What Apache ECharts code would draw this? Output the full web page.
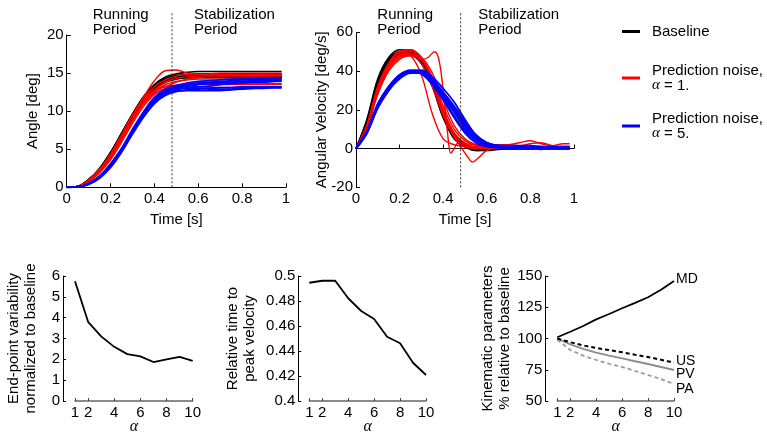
<!DOCTYPE html>
<html><head><meta charset="utf-8">
<script src="https://cdn.jsdelivr.net/npm/echarts@6/dist/echarts.min.js"></script>
<style>html,body{margin:0;padding:0;background:#fff}#c{width:767px;height:432px}</style>
</head><body><div id="c"></div>
<script>
// ---------- data ----------
const T = [0,0.05,0.1,0.15,0.2,0.25,0.3,0.35,0.4,0.45,0.5,0.55,0.6,0.65,0.7,0.75,0.8,0.85,0.9,0.95,0.98];
const dividerT = 0.48;

// Angle [deg] - Baseline
const angBase1 = [0,0.1,1.0,2.4,4.5,7.0,9.6,11.9,13.5,14.5,14.9,15.1,15.2,15.2,15.2,15.2,15.2,15.2,15.2,15.2,15.2];
const angBase2 = [0,0.1,1.0,2.5,4.6,7.1,9.6,11.8,13.4,14.3,14.7,14.8,14.9,14.9,14.9,14.9,14.9,14.9,14.9,14.9,14.9];
const angBase3 = [0,0.1,0.9,2.3,4.3,6.8,9.3,11.5,13.1,14.0,14.4,14.5,14.6,14.6,14.6,14.6,14.6,14.6,14.6,14.6,14.6];
const angBase4 = [0,0.1,1.0,2.4,4.5,7.0,9.5,11.6,13.1,13.9,14.3,14.4,14.5,14.5,14.5,14.5,14.5,14.5,14.5,14.5,14.5];
const angBase5 = [0,0.1,0.9,2.2,4.2,6.6,9.1,11.3,12.9,13.8,14.2,14.4,14.4,14.4,14.4,14.4,14.4,14.4,14.4,14.4,14.4];
const angBase6 = [0,0.1,1.0,2.4,4.4,6.9,9.4,11.6,13.2,14.1,14.5,14.7,14.7,14.7,14.7,14.7,14.7,14.7,14.7,14.7,14.7];
// Angle - alpha = 1
const angA1_1 = [0,0.1,0.9,2.3,4.3,6.8,9.4,11.8,14.0,15.3,15.4,15.0,14.8,14.8,14.8,14.8,14.8,14.8,14.8,14.8,14.8];
const angA1_2 = [0,0.1,0.9,2.3,4.3,6.8,9.4,11.5,12.8,13.2,13.8,14.2,14.4,14.5,14.5,14.5,14.5,14.5,14.5,14.5,14.5];
const angA1_3 = [0,0.1,0.8,2.1,4.0,6.4,8.9,11.1,12.6,13.2,13.4,13.4,13.5,13.5,13.5,13.5,13.5,13.5,13.5,13.5,13.5];
const angA1_4 = [0,0.1,0.8,2.0,3.8,6.2,8.7,10.9,12.4,12.9,13.0,13.0,13.0,13.1,13.1,13.1,13.1,13.1,13.1,13.1,13.1];
const angA1_5 = [0,0.1,0.9,2.2,4.1,6.5,9.0,11.2,12.8,13.8,14.3,14.5,14.6,14.7,14.7,14.7,14.7,14.7,14.7,14.7,14.7];
const angA1_6 = [0,0.1,0.8,2.1,3.9,6.3,8.8,11.0,12.6,13.5,13.9,14.1,14.2,14.2,14.2,14.2,14.2,14.2,14.2,14.2,14.2];
const angA1_7 = [0,0.05,0.7,1.9,3.6,5.9,8.4,10.6,12.2,13.0,13.3,13.5,13.6,13.6,13.6,13.6,13.6,13.6,13.6,13.6,13.6];
const angA1_8 = [0,0.1,1.0,2.4,4.4,6.9,9.5,11.7,13.2,14.1,14.6,14.8,14.9,14.9,15.0,15.0,15.0,15.0,15.0,15.0,15.0];
// Angle - alpha = 5
const angA5_1 = [0,0.05,0.5,1.5,3.0,5.0,7.5,9.8,11.6,12.7,13.2,13.5,13.7,13.8,13.9,14.0,14.1,14.2,14.2,14.3,14.3];
const angA5_2 = [0,0.05,0.5,1.4,2.9,4.9,7.3,9.6,11.4,12.5,13.0,13.3,13.5,13.6,13.7,13.8,13.9,14.0,14.0,14.1,14.1];
const angA5_3 = [0,0.05,0.4,1.3,2.8,4.8,7.2,9.5,11.3,12.4,12.9,13.1,13.2,13.3,13.5,13.6,13.7,13.8,13.8,13.9,13.9];
const angA5_4 = [0,0.05,0.4,1.3,2.7,4.7,7.1,9.3,11.1,12.1,12.6,12.7,12.7,12.7,12.7,12.8,12.9,13.0,13.0,13.1,13.1];
const angA5_5 = [0,0.05,0.5,1.5,3.1,5.1,7.6,9.9,11.8,12.9,13.4,13.7,13.9,14.0,14.1,14.2,14.2,14.3,14.3,14.3,14.3];
const angA5_6 = [0,0.05,0.4,1.2,2.6,4.6,7.0,9.2,11.0,12.1,12.6,12.8,12.9,13.0,13.1,13.1,13.2,13.2,13.2,13.2,13.2];
const angA5_7 = [0,0.05,0.5,1.4,2.9,4.9,7.4,9.7,11.5,12.6,13.1,13.4,13.6,13.7,13.8,13.8,13.9,13.9,14.0,14.0,14.0];
const angA5_8 = [0,0.05,0.4,1.3,2.8,4.8,7.2,9.4,11.2,12.3,12.8,13.0,13.0,12.9,12.9,12.9,13.0,13.0,13.1,13.1,13.1];

// Angular velocity [deg/s] - Baseline
const velBase1 = [0,15,36,47,51,50,45,33,16,6,1,-1,-0.5,0,0,0,0,0,0,0,0];
const velBase2 = [0,14,34,46,50,51,46,34,17,6,1,-0.5,-0.5,0,0,0,0,0,0,0,0];
const velBase3 = [0,13,33,45,49,49,45,35,19,7,2,0,-0.5,0,0,0,0,0,0,0,0];
const velBase4 = [0,14,35,46,50,49,44,32,16,5,1,-1,-1,-0.5,0,0,0,0,0,0,0];
const velBase5 = [0,13,32,44,48,48,44,34,19,8,2,0,0,0,0,0,0,0,0,0,0];
const velBase6 = [0,14,34,46,49,50,46,35,18,7,2,0,-0.5,0,0,0,0,0,0,0,0];
// Velocity - alpha = 1
const tVelA1_1 = [0,0.05,0.1,0.15,0.2,0.25,0.3,0.33,0.36,0.38,0.4,0.42,0.435,0.45,0.47,0.5,0.55,0.6,0.7,0.8,0.9,0.98];
const velA1_1  = [0,11,31,42,47,48,46,47,50,46,30,8,-2.5,0,3,2.5,2,1,0.5,0,0.5,0];
const tVelA1_2 = [0,0.05,0.1,0.15,0.2,0.25,0.3,0.35,0.4,0.45,0.48,0.51,0.535,0.56,0.6,0.65,0.7,0.8,0.9,0.98];
const velA1_2  = [0,12,31,43,48,49,44,32,17,6,1,-4,-7,-5,-1,0.5,0.5,0,0,0];
const velA1_3 = [0,12,32,44,50,48,38,18,5,2,1,1,0.5,0.5,0.5,0.5,0.5,0.5,0.5,0.5,0.5];
const velA1_4 = [0,11,30,42,48,50,47,36,20,8,3,1,1,1.5,2,3,4,2.5,1.5,2.5,2.5];
const velA1_5 = [0,12,31,43,49,51,47,36,19,7,2,0.5,0,0,0.5,1,1,0.5,0,0,0];
const velA1_6 = [0,11,29,41,47,49,46,37,22,10,4,1.5,1,0.5,0.5,0.5,0.5,0.5,0.5,1,0.5];
const velA1_7 = [0,10,28,40,46,48,47,39,25,12,5,2,1,2,2,1.5,2.5,3,1.5,0.5,0.5];
const velA1_8 = [0,12,32,44,50,51,46,35,18,6,1,0,0.5,1,1.5,1,0,-0.5,0,0,0];
// Velocity - alpha = 5
const velA5_1 = [0,9,23,32,38,40.5,39.5,34,27,19,11,5,2,1,1,0.5,0.5,0.5,0.5,0.5,0.5];
const velA5_2 = [0,9,22,31,37,40,40,36,29,21,13,6,3,1.5,1,1,1,1,1,1,1];
const velA5_3 = [0,8,21,30,36,39,39,35,29,22,14,7,3,1.5,1,1,0.5,0.5,0.5,0.5,0.5];
const velA5_4 = [0,9,23,32,38,40,39,34,26,17,9,4,1.5,0.5,0,0,0,0,0,0,0];
const velA5_5 = [0,8,21,30,37,40,40.5,37,31,24,15,7,3,1.5,1,1,0.5,0.5,0.5,0.5,0];
const velA5_6 = [0,9,22,31,37,39.5,38.5,33,25,16,8,3,1,0.5,0,0,0,0,0,0,0];
const velA5_7 = [0,8,22,31,37,40,39.5,35,28,20,12,6,2.5,1.5,1.5,1.5,1.5,1,1,1,1];
const velA5_8 = [0,9,22,31,38,40,39,34,27,19,10,5,2,1,0.5,0.5,0.5,0.5,0.5,0.5,0.5];

// Bottom panels
const alphaVals = [1,2,3,4,5,6,7,8,9,10];
const alphaTicks = [1,2,4,6,8,10];
const endpointVar = [5.75,3.8,3.1,2.6,2.25,2.14,1.87,2.0,2.12,1.93];
const relTimePeak = [0.4946,0.4962,0.4962,0.4822,0.472,0.4656,0.4514,0.4462,0.4306,0.4208];
const kinMD = [101,105.4,110,115.3,119.6,124.2,128.5,133,139,146];
const kinUS = [100,97,94.5,92.4,90.7,89,87,85.2,83,80.7];
const kinPV = [100,95.3,91.7,88.7,86.3,84.1,81.8,79.6,77.2,74.8];
const kinPA = [99,90.8,86.3,82.8,79.8,77.2,74,70.8,67.5,63.6];

const NAME_BASE = 'Baseline';
const NAME_A1 = 'Prediction noise, α = 1.';
const NAME_A5 = 'Prediction noise, α = 5.';

// ---------- chart ----------
const FONT = '"Liberation Sans", Arial, Helvetica, sans-serif';
const SERIF = '"Liberation Serif", "Times New Roman", serif';
const RED = '#ff0000', BLUE = '#0000ff', BLACK = '#000000';
const pairs = (ts, vs) => ts.map((t, i) => [t, vs[i]]);
function curve(name, color, width, idx, ts, vs) {
  return {type:'line', name, xAxisIndex:idx, yAxisIndex:idx, data:pairs(ts, vs),
    symbol:'none', showSymbol:false, smooth:0.35, silent:true,
    lineStyle:{color, width}, itemStyle:{color}, emphasis:{disabled:true}};
}
const txt = {color:'#000', fontFamily:FONT, fontSize:15};
const nameTxt = {color:'#000', fontFamily:FONT, fontSize:15, lineHeight:17};

function topX(gi) {
  return {type:'value', gridIndex:gi, min:0, max:1, interval:0.2,
    axisLine:{show:true, lineStyle:{color:'#000', width:1}},
    axisTick:{show:true, inside:true, length:4, lineStyle:{color:'#000'}},
    axisLabel:Object.assign({margin:4}, txt), splitLine:{show:false},
    name:'Time [s]', nameLocation:'middle', nameGap:24, nameMoveOverlap:false, nameTextStyle:nameTxt};
}
function topY(gi, min, max, interval, name, gap) {
  return {type:'value', gridIndex:gi, min, max, interval,
    axisLine:{show:true, lineStyle:{color:'#000', width:1}},
    axisTick:{show:true, inside:true, length:4, lineStyle:{color:'#000'}},
    axisLabel:Object.assign({margin:3}, txt), splitLine:{show:false},
    name, nameLocation:'middle', nameGap:gap, nameMoveOverlap:false, nameTextStyle:nameTxt};
}
function hiddenAxis(gi) {
  return {type:'value', gridIndex:gi, min:0, max:1, show:false};
}
function botX(gi) {
  return {type:'value', gridIndex:gi, min:1, max:10,
    axisLine:{show:true, lineStyle:{color:'#666', width:1.5}},
    axisTick:{show:true, inside:true, length:3, customValues:alphaTicks, lineStyle:{color:'#444'}},
    axisLabel:Object.assign({margin:4, customValues:alphaTicks}, txt), splitLine:{show:false},
    name:'α', nameLocation:'middle', nameGap:18, nameMoveOverlap:false,
    nameTextStyle:{color:'#000', fontFamily:SERIF, fontStyle:'italic', fontSize:16, lineHeight:16}};
}
function botY(gi, min, max, interval, name, gap, offset) {
  return {type:'value', gridIndex:gi, min, max, interval, offset,
    axisLine:{show:true, lineStyle:{color:'#000', width:1}},
    axisTick:{show:true, inside:true, length:3, lineStyle:{color:'#000'}},
    axisLabel:Object.assign({margin:3}, txt), splitLine:{show:false},
    name, nameLocation:'middle', nameGap:gap, nameMoveOverlap:false, nameTextStyle:nameTxt};
}

const series = [];
// Top-left: angle
[angBase1,angBase2,angBase3,angBase4,angBase5,angBase6].forEach(v => series.push(curve(NAME_BASE, BLACK, 1.6, 0, T, v)));
[angA1_1,angA1_2,angA1_3,angA1_4,angA1_5,angA1_6,angA1_7,angA1_8].forEach(v => series.push(curve(NAME_A1, RED, 1.4, 0, T, v)));
[angA5_1,angA5_2,angA5_3,angA5_4,angA5_5,angA5_6,angA5_7,angA5_8].forEach(v => series.push(curve(NAME_A5, BLUE, 1.8, 0, T, v)));
// Top-middle: velocity
[velBase1,velBase2,velBase3,velBase4,velBase5,velBase6].forEach(v => series.push(curve(NAME_BASE, BLACK, 1.6, 1, T, v)));
series.push(curve(NAME_A1, RED, 1.4, 1, tVelA1_1, velA1_1));
series.push(curve(NAME_A1, RED, 1.4, 1, tVelA1_2, velA1_2));
[velA1_3,velA1_4,velA1_5,velA1_6,velA1_7,velA1_8].forEach(v => series.push(curve(NAME_A1, RED, 1.4, 1, T, v)));
[velA5_1,velA5_2,velA5_3,velA5_4,velA5_5,velA5_6,velA5_7,velA5_8].forEach(v => series.push(curve(NAME_A5, BLUE, 1.8, 1, T, v)));
// Dotted dividers (overlay grids)
[2,3].forEach(gi => series.push({type:'line', xAxisIndex:gi, yAxisIndex:gi, data:[[dividerT,0],[dividerT,1]],
  symbol:'none', silent:true, lineStyle:{color:'#333', width:1, type:[2,2]}}));
// Bottom panels
function simple(idx, vals, color, width, type, label, off) {
  const s = {type:'line', xAxisIndex:idx, yAxisIndex:idx, data:pairs(alphaVals, vals), symbol:'none',
    silent:true, lineStyle:{color, width, type:type || 'solid'}};
  if (label) s.endLabel = {show:true, formatter:label, color:'#000', fontFamily:FONT, fontSize:14, distance:2, offset:off};
  return s;
}
series.push(simple(4, endpointVar, '#000', 1.8));
series.push(simple(5, relTimePeak, '#000', 1.8));
series.push(simple(6, kinPA, '#9a9a9a', 1.8, [4,3], 'PA', [0,5]));
series.push(simple(6, kinPV, '#8c8c8c', 1.8, 'solid', 'PV', [0,4]));
series.push(simple(6, kinUS, '#000', 2, [4,3], 'US', [0,-1]));
series.push(simple(6, kinMD, '#000', 1.8, 'solid', 'MD', [0,-2]));

const legendBase = {orient:'vertical', icon:'rect', itemWidth:18, itemHeight:3, left:617,
  selectedMode:false, textStyle:{color:'#000', fontFamily:FONT, fontSize:15, lineHeight:15, padding:[0,0,0,7],
    rich:{a:{fontFamily:SERIF, fontStyle:'italic', fontSize:15, lineHeight:15}}}};
const legFmt = n => n === NAME_A1 ? 'Prediction noise,\n{a|α} = 1.' : n === NAME_A5 ? 'Prediction noise,\n{a|α} = 5.' : n;

const G = (left, top, width, height) => ({left, top, width, height, outerBoundsMode:'none', containLabel:false});
const option = {
  animation:false,
  backgroundColor:'#fff',
  textStyle:{fontFamily:FONT},
  grid:[
    G(66.7, 35, 219.3, 152.3),
    G(356, 32.3, 218, 155),
    G(66.7, 12, 219.3, 175.3),
    G(356, 12, 218, 175.3),
    G(75, 276, 117.7, 125),
    G(309.3, 276, 116.7, 125),
    G(557.3, 276, 116.7, 125)
  ],
  xAxis:[topX(0), topX(1), hiddenAxis(2), hiddenAxis(3), botX(4), botX(5), botX(6)],
  yAxis:[
    topY(0, 0, 20, 5, 'Angle [deg]', 25),
    topY(1, -20, 60, 20, 'Angular Velocity [deg/s]', 26),
    hiddenAxis(2), hiddenAxis(3),
    botY(4, 0, 6, 1, 'End-point variability\nnormalized to baseline', 24, 12),
    botY(5, 0.4, 0.5, 0.02, 'Relative time to\npeak velocity', 40, 11),
    botY(6, 50, 150, 25, 'Kinematic parameters\n% relative to baseline', 32, 12)
  ],
  legend:[
    Object.assign({}, legendBase, {top:19, data:[NAME_BASE], formatter:legFmt}),
    Object.assign({}, legendBase, {top:58, data:[NAME_A1], formatter:legFmt}),
    Object.assign({}, legendBase, {top:106, data:[NAME_A5], formatter:legFmt})
  ],
  graphic:[
    {type:'text', left:92.7, top:7, style:{text:'Running\nPeriod', font:'15px ' + FONT, lineHeight:15, fill:'#000'}},
    {type:'text', left:194, top:7, style:{text:'Stabilization\nPeriod', font:'15px ' + FONT, lineHeight:15, fill:'#000'}},
    {type:'text', left:377.3, top:7, style:{text:'Running\nPeriod', font:'15px ' + FONT, lineHeight:15, fill:'#000'}},
    {type:'text', left:478.3, top:7, style:{text:'Stabilization\nPeriod', font:'15px ' + FONT, lineHeight:15, fill:'#000'}}
  ],
  series
};
const chart = echarts.init(document.getElementById('c'), null, {renderer:'canvas'});
chart.setOption(option);
</script>
</body></html>
